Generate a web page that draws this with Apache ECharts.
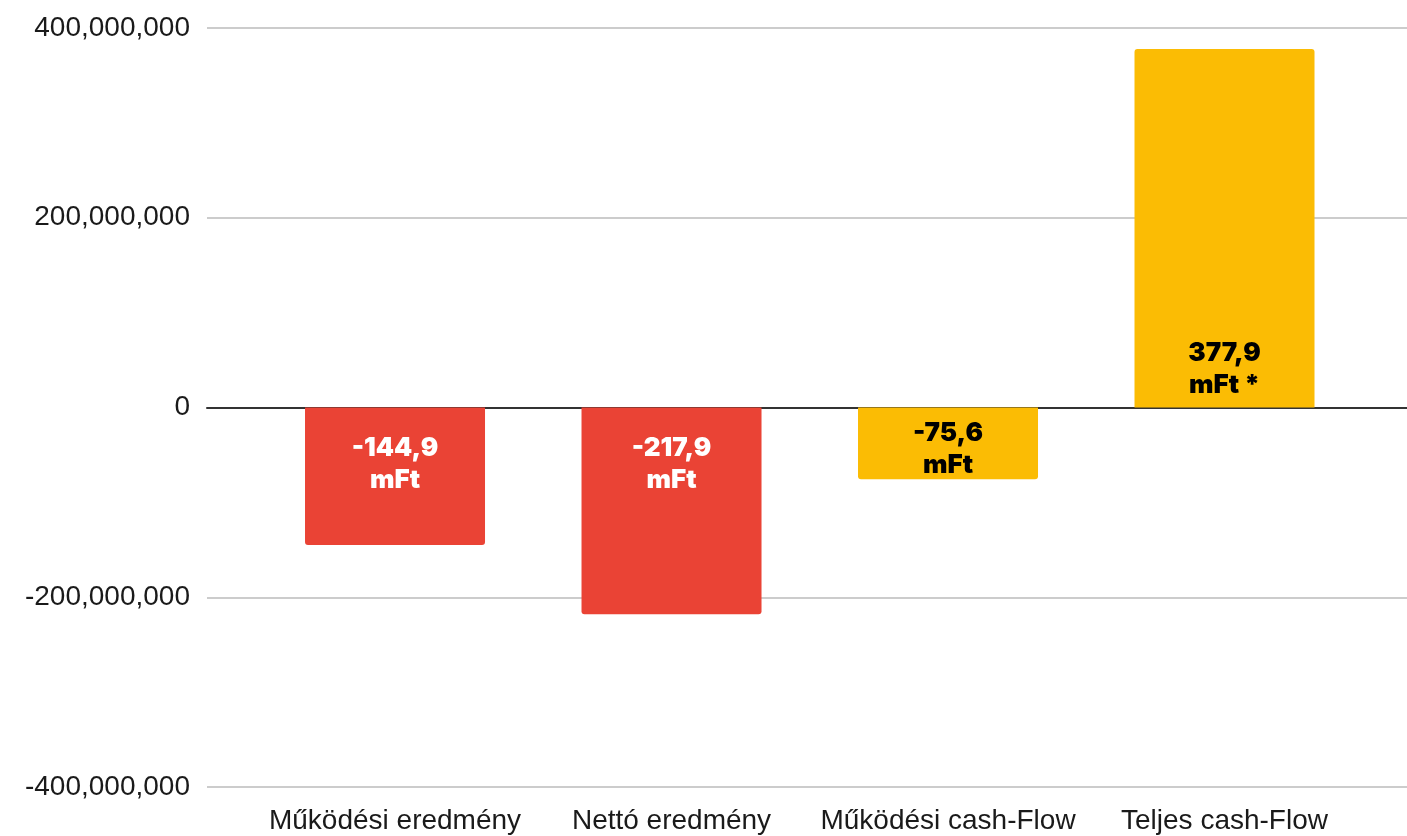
<!DOCTYPE html>
<html lang="hu">
  <head>
    <meta charset="UTF-8" />
    <title>Eredmény és cash-flow</title>
    <style>
      html,
      body {
        margin: 0;
        width: 100%;
        height: 100%;
        background: #fff;
      }
      #chart {
        width: 1407px;
        height: 836px;
      }
    </style>
    <script src="https://cdn.jsdelivr.net/npm/echarts@6/dist/echarts.min.js"></script>
  </head>
  <body>
    <div id="chart"></div>
    <script>
      const categories = ['Működési eredmény', 'Nettó eredmény', 'Működési cash-Flow', 'Teljes cash-Flow']
      const values = [-144900000, -217900000, -75600000, 377900000]
      const notes = ['', '', '', ' *']
      const barColors = ['#ea4335', '#ea4335', '#fbbc04', '#fbbc04']
      const labelColors = ['#ffffff', '#ffffff', '#000000', '#000000']
      const yTicks = [-400000000, -200000000, 0, 200000000, 400000000]

      const grid = { left: 207, right: 0, top: 28, bottom: 49 }
      const chart = echarts.init(document.getElementById('chart'))

      const fmt = (v) => (v / 1e6).toFixed(1).replace('.', ',')
      // px per unit, to keep labels of short bars inside the bar
      const pxPerUnit = (836 - grid.top - grid.bottom) / (yTicks[yTicks.length - 1] - yTicks[0])

      const data = values.map((v, i) => {
        const barPx = Math.abs(v) * pxPerUnit
        return {
          value: [i, v],
          itemStyle: {
            color: barColors[i],
            borderRadius: v < 0 ? [0, 0, 3, 3] : [3, 3, 0, 0]
          },
          label: {
            position: v < 0 ? 'insideTop' : 'insideBottom',
            distance: v < 0 ? Math.min(25, barPx - 62) : 6,
            color: labelColors[i],
            formatter: () => fmt(v) + '\nmFt' + notes[i]
          }
        }
      })

      chart.setOption({
        animation: false,
        grid,
        xAxis: {
          type: 'value',
          min: -0.68,
          max: 3.66,
          splitLine: { show: false },
          axisLine: { show: true, onZero: true, lineStyle: { color: '#333', width: 2 } },
          axisTick: { show: false },
          axisLabel: {
            customValues: [0, 1, 2, 3],
            formatter: (v) => categories[Math.round(v)],
            fontFamily: 'Liberation Sans',
            fontSize: 28,
            color: '#1a1a1a',
            margin: 34,
            verticalAlign: 'middle'
          }
        },
        yAxis: {
          type: 'value',
          min: yTicks[0],
          max: yTicks[yTicks.length - 1],
          interval: 200000000,
          axisLine: { show: false },
          axisTick: { show: false },
          splitLine: { lineStyle: { color: '#cccccc', width: 2 } },
          axisLabel: {
            margin: 17,
            fontFamily: 'Liberation Sans',
            fontSize: 28,
            color: '#1a1a1a',
            formatter: (v) => v.toLocaleString('en-US')
          }
        },
        series: [
          {
            type: 'bar',
            barWidth: 180,
            data,
            label: {
              show: true,
              fontFamily: 'Inter',
              fontWeight: 900,
              fontSize: 26,
              lineHeight: 32,
              align: 'center'
            }
          }
        ]
      })
    </script>
  </body>
</html>
